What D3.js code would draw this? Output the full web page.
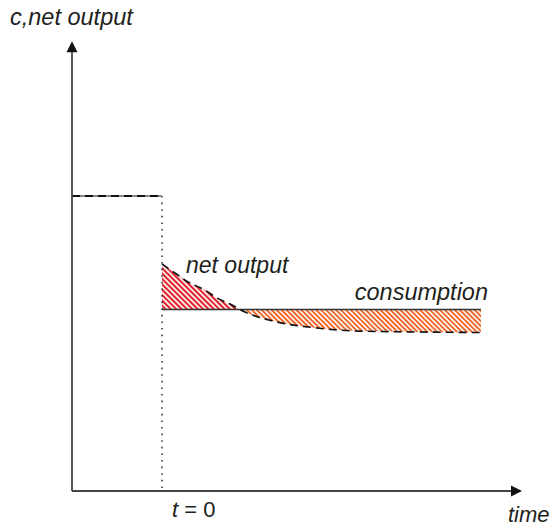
<!DOCTYPE html>
<html>
<head>
<meta charset="utf-8">
<script src="https://cdn.jsdelivr.net/npm/d3@7/dist/d3.min.js"></script>
<style>
html,body{margin:0;padding:0;background:#fff;}
svg{display:block;}
text{font-family:"Liberation Sans",Arial,Helvetica,sans-serif;font-style:italic;fill:#231f20;}
</style>
</head>
<body>
<script>
// ---- data ----
const initialTime = [-1, 0];
const initialLevel = 10;
const consumptionTime = [0, 3.544];
const consumptionLevel = 6.153;
const netOutputTime = [0, 0.144, 0.289, 0.478, 0.611, 0.778, 0.856, 0.922, 1.233, 1.722, 2.2, 2.867, 3.544];
const netOutputValue = [7.695, 7.39, 7.085, 6.81, 6.54, 6.305, 6.17, 6.07, 5.76, 5.525, 5.42, 5.39, 5.373];
const axisLabels = ["c,net output", "time"];
const curveLabels = ["net output", "consumption"];

const W = 553, H = 526;
const svg = d3.select("body").append("svg").attr("width", W).attr("height", H);

const x = d3.scaleLinear().domain([-1, 4]).range([72, 522]);
const y = d3.scaleLinear().domain([0, 10]).range([491, 196]);
const yTop = 15.25;

const defs = svg.append("defs");
function hatch(id, color, size, thick) {
  const p = defs.append("pattern").attr("id", id).attr("patternUnits", "userSpaceOnUse")
    .attr("width", size).attr("height", size).attr("patternTransform", "rotate(-45)");
  p.append("rect").attr("width", size).attr("height", size).attr("fill", "#fff");
  p.append("rect").attr("x", 0).attr("y", 0).attr("width", thick).attr("height", size).attr("fill", color);
}
hatch("hRed", "#e1202a", 3.8, 2.1);
hatch("hOrange", "#f26425", 3.5, 1.9);

const pts = netOutputTime.map((t, i) => [t, netOutputValue[i]]);

// clips above / below consumption
defs.append("clipPath").attr("id", "above").append("rect")
  .attr("x", x(0)).attr("y", 0).attr("width", W).attr("height", y(consumptionLevel));
defs.append("clipPath").attr("id", "below").append("rect")
  .attr("x", x(0)).attr("y", y(consumptionLevel)).attr("width", W).attr("height", H);

const area = d3.area().x(d => x(d[0])).y0(y(consumptionLevel)).y1(d => y(d[1])).curve(d3.curveMonotoneX);
svg.append("path").datum(pts).attr("d", area).attr("fill", "url(#hRed)").attr("clip-path", "url(#above)");
svg.append("path").datum(pts).attr("d", area).attr("fill", "url(#hOrange)").attr("clip-path", "url(#below)");

// dotted vertical at t=0
svg.append("line").attr("x1", x(0)).attr("x2", x(0)).attr("y1", y(initialLevel)).attr("y2", y(0))
  .attr("stroke", "#222").attr("stroke-width", 1.4).attr("stroke-dasharray", "1.6,5");

// initial level
svg.append("line").attr("x1", x(initialTime[0])).attr("x2", x(initialTime[1]))
  .attr("y1", y(initialLevel)).attr("y2", y(initialLevel))
  .attr("stroke", "#888").attr("stroke-width", 1.8);
svg.append("line").attr("x1", x(initialTime[0])).attr("x2", x(initialTime[1]))
  .attr("y1", y(initialLevel)).attr("y2", y(initialLevel))
  .attr("stroke", "#111").attr("stroke-width", 1.8).attr("stroke-dasharray", "8,5");

// consumption line
svg.append("line").attr("x1", x(consumptionTime[0])).attr("x2", x(consumptionTime[1]))
  .attr("y1", y(consumptionLevel)).attr("y2", y(consumptionLevel))
  .attr("stroke", "#333").attr("stroke-width", 1.4);

// net output dashed curve
const line = d3.line().x(d => x(d[0])).y(d => y(d[1])).curve(d3.curveMonotoneX);
svg.append("path").datum(pts).attr("d", line).attr("fill", "none")
  .attr("stroke", "#111").attr("stroke-width", 1.6).attr("stroke-dasharray", "8,5");

// axes
const ax = x(-1), ay = y(0);
svg.append("line").attr("x1", ax).attr("x2", ax).attr("y1", ay).attr("y2", y(yTop) + 10)
  .attr("stroke", "#444").attr("stroke-width", 1.8);
svg.append("line").attr("x1", ax).attr("x2", x(4) - 10).attr("y1", ay).attr("y2", ay)
  .attr("stroke", "#444").attr("stroke-width", 1.8);
svg.append("path").attr("d", `M${ax},${y(yTop)} L${ax - 5.5},${y(yTop) + 11} L${ax + 5.5},${y(yTop) + 11} Z`).attr("fill", "#111");
svg.append("path").attr("d", `M${x(4)},${ay} L${x(4) - 11},${ay - 5.5} L${x(4) - 11},${ay + 5.5} Z`).attr("fill", "#111");

// labels
svg.append("text").attr("x", 10).attr("y", 25).attr("font-size", 23.5).text(axisLabels[0]);
svg.append("text").attr("x", 508).attr("y", 522).attr("font-size", 22).text(axisLabels[1]);
svg.append("text").attr("x", 186).attr("y", 273).attr("font-size", 23).text(curveLabels[0]);
svg.append("text").attr("x", 488).attr("y", 300).attr("font-size", 23.5).attr("text-anchor", "end").text(curveLabels[1]);
const t0 = svg.append("text").attr("x", 172).attr("y", 517).attr("font-size", 22).style("font-style", "normal");
t0.append("tspan").style("font-style", "italic").text("t");
t0.append("tspan").text(" = 0");
</script>
</body>
</html>
